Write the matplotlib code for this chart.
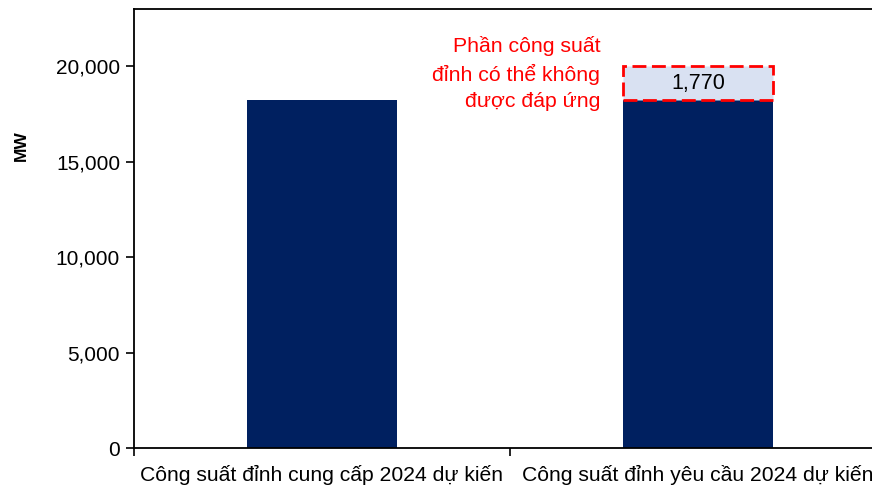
import matplotlib
matplotlib.use("Agg")
import matplotlib.pyplot as plt
from matplotlib.ticker import FuncFormatter, FixedLocator

plt.rcParams['font.family'] = ['Liberation Sans', 'DejaVu Sans']

categories = ["Công suất đỉnh cung cấp 2024 dự kiến", "Công suất đỉnh yêu cầu 2024 dự kiến"]
base_values = [18220, 18220]
gap_values = [0, 1770]
y_ticks = [0, 5000, 10000, 15000, 20000]
y_label = "MW"
annotation = "Phần công suất\nđỉnh có thể không\nđược đáp ứng"

navy = "#002060"
light = "#D9E1F2"
red = "#FF0000"

fig = plt.figure(figsize=(8.72, 4.86), dpi=100)
ax = fig.add_axes([134/872, 38/486, 752/872, 439/486])

x = list(range(len(categories)))
ax.bar(x, base_values, width=0.4, color=navy, zorder=2)
gap_x = [xi for xi, g in zip(x, gap_values) if g > 0]
gap_b = [b for b, g in zip(base_values, gap_values) if g > 0]
gap_h = [g for g in gap_values if g > 0]
bars = ax.bar(gap_x, gap_h, bottom=gap_b, width=0.4, color=light,
              edgecolor=red, linestyle=(0, (5, 2)), linewidth=2, zorder=3)
for xi, b, g in zip(gap_x, gap_b, gap_h):
    ax.text(xi, b + g / 2, f"{g:,}", ha="center", va="center", fontsize=15.5, color="black", zorder=4)

ax.text(gap_x[0] - 0.26, 19634, annotation, ha="right", va="center", color=red,
        fontsize=15.3, linespacing=1.47)

ax.set_xlim(-0.5, 1.5)
ax.set_ylim(0, 23000)
ax.set_yticks(y_ticks)
ax.yaxis.set_major_formatter(FuncFormatter(lambda v, p: f"{int(v):,}"))
ax.tick_params(axis="y", labelsize=15, length=6, width=1.2, direction="out", pad=4)

ax.set_xticks(x)
ax.set_xticklabels(categories, fontsize=15.2)
ax.tick_params(axis="x", which="major", length=0, pad=12)
ax.xaxis.set_minor_locator(FixedLocator([-0.5, 0.5, 1.5]))
ax.tick_params(axis="x", which="minor", length=6, width=1.2, direction="out")

fig.text(21/872, 1 - 146/486, y_label, rotation=90, ha="center", va="center",
         fontsize=12.5, fontweight="bold")

for s in ["left", "bottom", "top", "right"]:
    ax.spines[s].set_linewidth(1.3)
    ax.spines[s].set_color("black")

fig.savefig("out.png", dpi=100)
